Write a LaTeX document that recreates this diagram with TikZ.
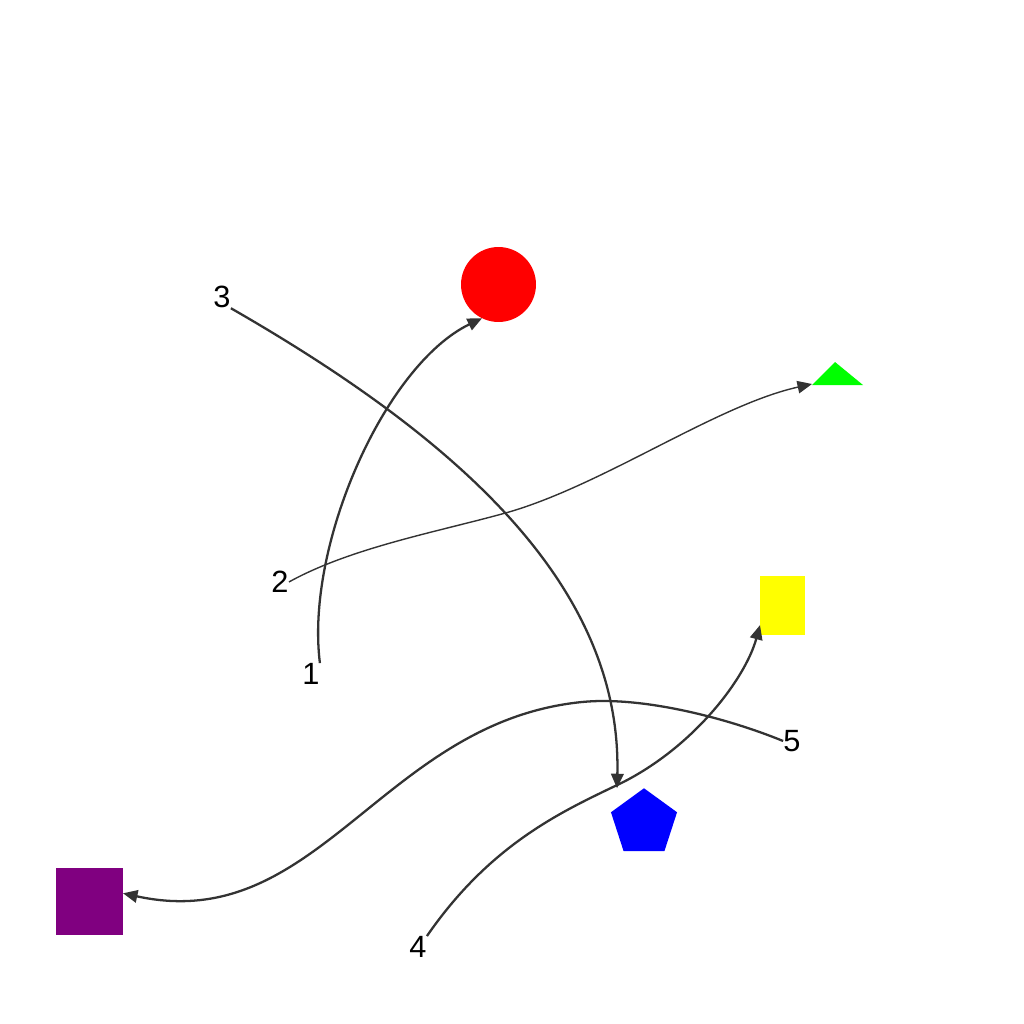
\documentclass[tikz,border=0pt]{standalone}
\usepackage{fontspec}
\setmainfont{Liberation Sans}
\usetikzlibrary{arrows.meta,shapes.geometric}
\definecolor{linkgray}{HTML}{333333}
\definecolor{shapegreen}{HTML}{00FF00}
\definecolor{shapeblue}{HTML}{0000FF}
\definecolor{shapered}{HTML}{FF0000}
\definecolor{shapeyellow}{HTML}{FFFF00}
\definecolor{shapepurple}{HTML}{800080}

\begin{document}
\begin{tikzpicture}[
  x=0.02cm, y=-0.02cm,
  numtag/.style={inner sep=0pt, font=\fontsize{17.5}{21}\selectfont},
  blob/.style={inner sep=0pt, outer sep=0pt, draw=none},
  link/.style={-{Triangle[length=2.9mm, width=2.5mm]}, draw=linkgray, line width=1.3pt},
  thin link/.style={link, line width=0.8pt}
]
\useasboundingbox (0,0) rectangle (1024,1024);
\node[blob, circle, fill=shapered, minimum size=1.5cm] (circ) at (498.5,284.5) {};
\fill[shapegreen] (812,385) -- (835,362) -- (863,385) -- cycle;
\coordinate (tri) at (812,384);
\node[blob, fill=shapeyellow, minimum width=0.9cm, minimum height=1.18cm] (rect) at (782.5,605.5) {};
\node[blob, regular polygon, regular polygon sides=5, fill=shapeblue, minimum size=1.39cm] (pent) at (644,823) {};
\node[blob, fill=shapepurple, minimum size=1.34cm] (sq) at (89.5,901) {};
\node[numtag] (l1) at (311,674) {1};
\node[numtag] (l2) at (280,582) {2};
\node[numtag] (l3) at (222,297) {3};
\node[numtag] (l4) at (418,947) {4};
\node[numtag] (l5) at (792,741) {5};
\draw[link] (l1.north east) .. controls (305,545) and (385,365) .. (circ.244);
\draw[thin link] (l2.east) .. controls (352,547) and (442,531) .. (509,512) .. controls (605,484) and (717,405) .. (tri);
\draw[link] (l3.south east) .. controls (457,438) and (622,585) .. ([xshift=-0.54cm]pent.corner 1);
\draw[link] (l4.north east) .. controls (489,846) and (559,813) .. (613,787) .. controls (690,752) and (745,680) .. (rect.221);
\draw[link] (l5.west) .. controls (727,718) and (642,696) .. (582,702) .. controls (382,722) and (318,936) .. (sq.13);
\end{tikzpicture}
\end{document}
